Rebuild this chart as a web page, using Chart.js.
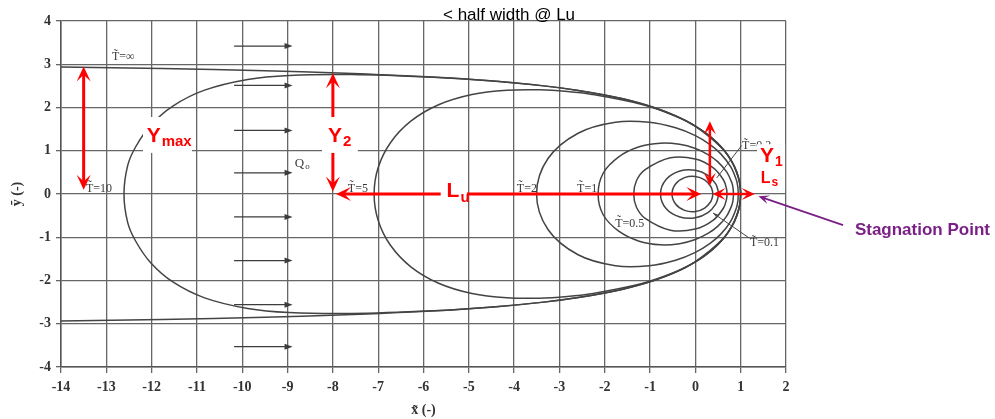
<!DOCTYPE html>
<html><head><meta charset="utf-8">
<script src="https://cdn.jsdelivr.net/npm/chart.js@4.4.1/dist/chart.umd.min.js"></script>
<style>html,body{margin:0;padding:0;background:#fff;overflow:hidden}</style>
</head><body>
<canvas id="c" width="995" height="419"></canvas>
<script>
// ---------- data (dimensionless x~, y~) ----------
const xTicks = [-14,-13,-12,-11,-10,-9,-8,-7,-6,-5,-4,-3,-2,-1,0,1,2];
const yTicks = [-4,-3,-2,-1,0,1,2,3,4];
const curveNames = ['T=∞','T=10','T=5','T=2','T=1','T=0.5','T=0.2','T=0.1'];

const tInfX = [-14,-11.77,-9.50,-7.876,-5.712,-4.322,-3.347,-2.620,-2.055,-1.601,-1.228,-0.915,-0.649,-0.420,-0.221,0,0.242,0.467,0.642,0.805,0.915,0.979,1,0.979,0.915,0.805,0.642,0.467,0.242,0,-0.221,-0.420,-0.649,-0.915,-1.228,-1.601,-2.055,-2.620,-3.347,-4.322,-5.712,-7.876,-9.50,-11.77,-14];
const tInfY = [2.935,2.9,2.85,2.8,2.7,2.6,2.5,2.4,2.3,2.2,2.1,2.0,1.9,1.8,1.7,1.571,1.4,1.2,1.0,0.75,0.5,0.25,0,-0.25,-0.5,-0.75,-1.0,-1.2,-1.4,-1.571,-1.7,-1.8,-1.9,-2.0,-2.1,-2.2,-2.3,-2.4,-2.5,-2.6,-2.7,-2.8,-2.85,-2.9,-2.935];

const t10X = [1,0.979,0.915,0.805,0.642,0.361,0,-0.420,-0.915,-1.601,-2.620,-3.347,-4.531,-5.79,-7.588,-8.966,-9.880,-10.831,-11.532,-12.026,-12.357,-12.529,-12.61,-12.529,-12.357,-12.026,-11.532,-10.831,-9.880,-8.966,-7.588,-5.79,-4.531,-3.347,-2.620,-1.601,-0.915,-0.420,0,0.361,0.642,0.805,0.915,0.979,1];
const t10Y = [0,0.25,0.5,0.75,1.0,1.3,1.571,1.8,2.0,2.2,2.4,2.5,2.616,2.699,2.762,2.741,2.647,2.401,2.033,1.583,1.081,0.657,0,-0.657,-1.081,-1.583,-2.033,-2.401,-2.647,-2.741,-2.762,-2.699,-2.616,-2.5,-2.4,-2.2,-2.0,-1.8,-1.571,-1.3,-1.0,-0.75,-0.5,-0.25,0];

const t5X = [0.9975,0.987,0.957,0.830,0.603,0,-0.488,-1.198,-2.308,-2.825,-3.441,-4.158,-4.931,-5.667,-6.280,-6.729,-7.0,-7.09,-7.0,-6.729,-6.280,-5.667,-4.931,-4.158,-3.441,-2.825,-2.308,-1.198,-0.488,0,0.603,0.830,0.957,0.987,0.9975];
const t5Y = [0,0.174,0.348,0.696,1.044,1.564,1.822,2.075,2.308,2.371,2.410,2.400,2.300,2.063,1.683,1.186,0.612,0,-0.612,-1.186,-1.683,-2.063,-2.300,-2.400,-2.410,-2.371,-2.308,-2.075,-1.822,-1.564,-1.044,-0.696,-0.348,-0.174,0];

const t2X = [0.947,0.938,0.908,0.785,0.566,0.325,0,-0.436,-1.018,-1.764,-2.589,-3.253,-3.505,-3.253,-2.589,-1.764,-1.018,-0.436,0,0.325,0.566,0.785,0.908,0.938,0.947];
const t2Y = [0,0.155,0.310,0.619,0.922,1.141,1.349,1.531,1.658,1.658,1.405,0.820,0,-0.820,-1.405,-1.658,-1.658,-1.531,-1.349,-1.141,-0.922,-0.619,-0.310,-0.155,0];

const t1X = [0.841,0.832,0.805,0.690,0.491,0.278,0,-0.349,-0.771,-1.240,-1.691,-2.035,-2.146,-2.035,-1.691,-1.240,-0.771,-0.349,0,0.278,0.491,0.690,0.805,0.832,0.841];
const t1Y = [0,0.129,0.258,0.510,0.749,0.912,1.051,1.148,1.175,1.091,0.859,0.480,0,-0.480,-0.859,-1.091,-1.175,-1.148,-1.051,-0.912,-0.749,-0.510,-0.258,-0.129,0];

const t05X = [0.698,0.690,0.624,0.396,0,-0.550,-1.108,-1.300,-1.36,-1.300,-1.108,-0.550,0,0.396,0.624,0.690,0.698];
const t05Y = [0,0.107,0.318,0.604,0.809,0.838,0.563,0.306,0,-0.306,-0.563,-0.838,-0.809,-0.604,-0.318,-0.107,0];

const t02X = [0.507,0.500,0.449,0.277,0,-0.342,-0.647,-0.77,-0.647,-0.342,0,0.277,0.449,0.500,0.507];
const t02Y = [0,0.079,0.233,0.432,0.551,0.532,0.337,0,-0.337,-0.532,-0.551,-0.432,-0.233,-0.079,0];

const t01X = [0.383,0.378,0.337,0.205,0,-0.238,-0.437,-0.515,-0.437,-0.238,0,0.205,0.337,0.378,0.383];
const t01Y = [0,0.062,0.179,0.326,0.406,0.378,0.232,0,-0.232,-0.378,-0.406,-0.326,-0.179,-0.062,0];

// flow arrows (regional flow Q0)
const flowArrowX = [-10.18,-8.89];
const flowArrowY = [3.42,2.51,1.47,0.49,-0.53,-1.54,-2.56,-3.53];

// text labels on the curves
const curveLabelText = ['T̃=∞','T̃=10','T̃=5','T̃=2','T̃=1','T̃=0.5','T̃=0.1','T̃=0.2'];
const curveLabelX = [-12.875,-13.45,-7.67,-3.94,-2.61,-1.77,1.205,1.03];
const curveLabelY = [3.10,0.05,0.05,0.05,0.05,-0.76,-1.20,1.04];

// ---------- build ----------
function pts(xs,ys){return xs.map((x,i)=>({x:x,y:ys[i]}));}
const series = [[tInfX,tInfY],[t10X,t10Y],[t5X,t5Y],[t2X,t2Y],[t1X,t1Y],[t05X,t05Y],[t02X,t02Y],[t01X,t01Y]];
const datasets = series.map((s,i)=>({
  label: curveNames[i], data: pts(s[0],s[1]), showLine:true, pointRadius:0,
  borderColor:'#444', borderWidth:1.5, tension:0.35, fill:false
}));

const RED='#ff0000', PURPLE='#7a1f86';
function head(ctx,tx,ty,ang,L,W,col){
  ctx.save(); ctx.translate(tx,ty); ctx.rotate(ang);
  ctx.beginPath(); ctx.moveTo(0,0); ctx.lineTo(-L,-W/2); ctx.lineTo(-L*0.55,0); ctx.lineTo(-L,W/2); ctx.closePath();
  ctx.fillStyle=col; ctx.fill(); ctx.restore();
}
function arrow(ctx,x1,y1,x2,y2,col,lw,L,W,both){
  const a=Math.atan2(y2-y1,x2-x1), ux=Math.cos(a), uy=Math.sin(a);
  ctx.strokeStyle=col; ctx.lineWidth=lw; ctx.lineCap='butt';
  ctx.beginPath();
  ctx.moveTo(x1+(both?ux*L*0.5:0), y1+(both?uy*L*0.5:0));
  ctx.lineTo(x2-ux*L*0.5, y2-uy*L*0.5); ctx.stroke();
  head(ctx,x2,y2,a,L,W,col);
  if(both) head(ctx,x1,y1,a+Math.PI,L,W,col);
}
function subText(ctx,main,sub,x,y,f1,f2,dy,col){
  ctx.fillStyle=col; ctx.font=f1; ctx.textAlign='left'; ctx.textBaseline='alphabetic';
  ctx.fillText(main,x,y); const w=ctx.measureText(main).width;
  ctx.font=f2; ctx.fillText(sub,x+w+1,y+dy);
}

const annot = {
  id:'annot',
  afterDraw(chart){
    const ctx=chart.ctx, X=v=>chart.scales.x.getPixelForValue(v), Y=v=>chart.scales.y.getPixelForValue(v);
    ctx.save();
    // flow arrows
    ctx.strokeStyle='#3c3c3c'; ctx.lineWidth=1.2;
    flowArrowY.forEach(v=>{
      const x1=X(flowArrowX[0]), x2=X(flowArrowX[1]), y=Y(v);
      ctx.beginPath(); ctx.moveTo(x1,y); ctx.lineTo(x2-5,y); ctx.stroke();
      ctx.beginPath(); ctx.moveTo(x2,y); ctx.lineTo(x2-8,y-3); ctx.lineTo(x2-8,y+3); ctx.closePath();
      ctx.fillStyle='#3c3c3c'; ctx.fill();
    });
    // curve labels
    ctx.font='12px "Liberation Serif"'; ctx.fillStyle='#3a3a3a'; ctx.textAlign='left'; ctx.textBaseline='alphabetic';
    curveLabelText.forEach((t,i)=>ctx.fillText(t,X(curveLabelX[i]),Y(curveLabelY[i])));
    // Q0
    subText(ctx,'Q','o',X(-8.84),Y(0.62),'13px "Liberation Serif"','9px "Liberation Serif"',2,'#3a3a3a');
    // pointer lines
    ctx.strokeStyle='#444'; ctx.lineWidth=1;
    ctx.beginPath(); ctx.moveTo(X(1.19),Y(-1.02)); ctx.lineTo(X(0.39),Y(-0.44)); ctx.stroke();
    head(ctx,X(0.39),Y(-0.44),Math.atan2(Y(-0.44)-Y(-1.02),X(0.39)-X(1.19)),6,4,'#444');
    ctx.beginPath(); ctx.moveTo(X(1.02),Y(1.12)); ctx.lineTo(X(0.47),Y(0.37)); ctx.stroke();
    // red arrows
    arrow(ctx,X(-13.5),Y(0.1),X(-13.5),Y(2.95),RED,3,15,14,true);
    arrow(ctx,X(-8),Y(0.06),X(-8),Y(2.79),RED,3,15,14,true);
    arrow(ctx,X(-7.93),Y(0),X(0.13),Y(0),RED,3,15,14,true);
    arrow(ctx,X(0.32),Y(0.19),X(0.32),Y(1.68),RED,2.5,13,12,true);
    arrow(ctx,X(0.38),Y(0),X(1.31),Y(0),RED,2.5,13,12,true);
    // white boxes
    ctx.fillStyle='#fff';
    const box=(a,b,c,d)=>ctx.fillRect(X(a),Y(b),X(c)-X(a),Y(d)-Y(b));
    box(-12.19,1.78,-11.11,0.95);
    box(-8.24,1.78,-7.45,0.95);
    box(-5.62,0.37,-5.04,-0.37);
    box(1.36,1.15,1.98,0.1);
    // red labels
    subText(ctx,'Y','max',X(-12.11),Y(1.21),'bold 21px "Liberation Sans"','bold 15px "Liberation Sans"',4,RED);
    subText(ctx,'Y','2',X(-8.11),Y(1.21),'bold 21px "Liberation Sans"','bold 15px "Liberation Sans"',4,RED);
    subText(ctx,'L','u',X(-5.49),Y(-0.06),'bold 21px "Liberation Sans"','bold 15px "Liberation Sans"',5,RED);
    subText(ctx,'Y','1',X(1.425),Y(0.75),'bold 21px "Liberation Sans"','bold 14px "Liberation Sans"',4,RED);
    subText(ctx,'L','s',X(1.44),Y(0.25),'bold 16px "Liberation Sans"','bold 12px "Liberation Sans"',3,RED);
    // stagnation point
    ctx.strokeStyle=PURPLE; ctx.lineWidth=1.8;
    const sx1=X(3.26), sy1=Y(-0.72), sx2=X(1.39), sy2=Y(-0.05);
    const a=Math.atan2(sy2-sy1,sx2-sx1);
    ctx.beginPath(); ctx.moveTo(sx1,sy1); ctx.lineTo(sx2-Math.cos(a)*6,sy2-Math.sin(a)*6); ctx.stroke();
    head(ctx,sx2,sy2,a,11,9,PURPLE);
    ctx.fillStyle=PURPLE; ctx.font='bold 17px "Liberation Sans"'; ctx.textAlign='left';
    ctx.fillText('Stagnation Point',X(3.52),Y(-0.95));
    // title
    ctx.fillStyle='#000'; ctx.font='17px "Liberation Sans"';
    ctx.fillText('< half width @ Lu',X(-5.57),Y(4.02));
    ctx.restore();
  }
};

const tickFont={family:'"Liberation Serif"',size:14,weight:'bold'};
new Chart(document.getElementById('c'),{
  type:'scatter',
  data:{datasets:datasets},
  options:{
    responsive:false, animation:false, devicePixelRatio:1,
    layout:{padding:{left:0,right:209,top:21,bottom:0}},
    plugins:{legend:{display:false},tooltip:{enabled:false}},
    scales:{
      x:{type:'linear',min:-14,max:2,
        afterBuildTicks:s=>{s.ticks=xTicks.map(v=>({value:v}));},
        afterFit:s=>{s.height=52;},
        ticks:{font:tickFont,color:'#333',padding:6,maxRotation:0,autoSkip:false},
        grid:{color:'#666',lineWidth:1.3,tickLength:6},
        border:{color:'#555',width:1.5},
        title:{display:true,text:'x̃ (-)',font:{family:'"Liberation Serif"',size:14,weight:'bold'},color:'#333',padding:{top:2,bottom:0}}},
      y:{type:'linear',min:-4,max:4,
        afterBuildTicks:s=>{s.ticks=yTicks.map(v=>({value:v}));},
        afterFit:s=>{s.width=61;},
        ticks:{font:tickFont,color:'#333',padding:5},
        grid:{color:'#666',lineWidth:1.3,tickLength:5},
        border:{color:'#555',width:1.5},
        title:{display:true,text:'ỹ (-)',font:{family:'"Liberation Serif"',size:14,weight:'bold'},color:'#333',padding:{top:9,bottom:0}}}
    }
  },
  plugins:[annot]
});
</script>
</body></html>
